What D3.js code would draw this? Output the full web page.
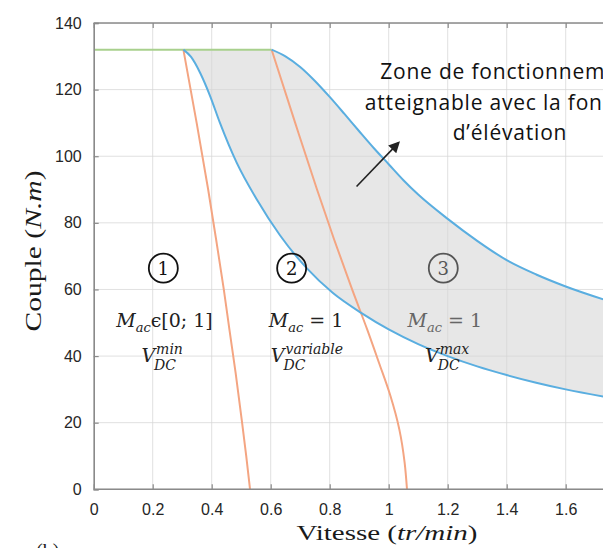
<!DOCTYPE html>
<html><head><meta charset="utf-8">
<script src="https://cdn.jsdelivr.net/npm/d3@7"></script>
<style>html,body{margin:0;padding:0;background:#fff;overflow:hidden}</style>
</head><body>
<svg id="chart" width="603" height="548"></svg>
<script>
// ---- data ----
const xTicks = [0, 0.2, 0.4, 0.6, 0.8, 1, 1.2, 1.4, 1.6];
const yTicks = [0, 20, 40, 60, 80, 100, 120, 140];
const ceilingSpeed = [0, 0.603];
const ceilingTorque = [132, 132];
const lowerSpeed = [0.304, 0.33, 0.361, 0.395, 0.428, 0.485, 0.553, 0.632, 0.722, 0.81, 0.908, 1.0, 1.1, 1.2, 1.3, 1.4, 1.5, 1.6, 1.75];
const lowerTorque = [132, 129.8, 125, 118, 110, 98, 87, 76.2, 66.4, 59, 52.9, 48, 43.6, 40, 36.9, 34.3, 32, 30, 27.5];
const upperSpeed = [0.603, 0.65, 0.7, 0.75, 0.8, 0.85, 0.9, 0.95, 1.0, 1.05, 1.1, 1.2, 1.3, 1.4, 1.5, 1.6, 1.75];
const upperTorque = [132, 130, 126.8, 122.6, 117.8, 112.7, 107.5, 102.4, 97.6, 92.8, 88.5, 81.2, 74.6, 68.8, 64.5, 60.9, 56.4];
const orange1Torque = [132, 110, 90, 75, 60, 48, 35, 20, 10, 0];
const orange1Speed = [0.304, 0.349, 0.388, 0.415, 0.441, 0.46, 0.481, 0.503, 0.517, 0.53];
const orange2Torque = [132, 110, 90, 75, 60, 48, 38, 28, 18, 8, 0];
const orange2Speed = [0.603, 0.683, 0.757, 0.815, 0.876, 0.927, 0.967, 1.006, 1.036, 1.054, 1.062];
const zoneLines = ["Zone de fonctionnement", "atteignable avec la fonction", "d’élévation"];

const zip = (xs, ys) => xs.map((v, i) => [v, ys[i]]);

const svg = d3.select("#chart");
const x = d3.scaleLinear().domain([0, 1.8]).range([93.7, 624.7]);
const y = d3.scaleLinear().domain([0, 140]).range([489.3, 23]);
const [x0, x1] = x.range(), [y0, y1] = y.range();

const defs = svg.append("defs");
defs.append("clipPath").attr("id", "clip")
  .append("rect").attr("x", x0).attr("y", y1).attr("width", x1 - x0).attr("height", y0 - y1);

const plot = svg.append("g").attr("clip-path", "url(#clip)");

// shaded zone
const lower = zip(lowerSpeed, lowerTorque), upper = zip(upperSpeed, upperTorque);
const ln = d3.line().x(d => x(d[0])).y(d => y(d[1])).curve(d3.curveMonotoneX);
const lnY = d3.line().x(d => x(d[0])).y(d => y(d[1])).curve(d3.curveMonotoneY);
const upPath = ln(upper);
const lowRev = ln(lower.slice().reverse());
plot.append("path")
  .attr("d", "M" + x(0.304) + "," + y(132) + "L" + upPath.slice(1) + "L" + lowRev.slice(1) + "Z")
  .attr("fill", "#e4e4e4").attr("fill-opacity", 0.9).attr("stroke", "none");

// grid
const grid = plot.append("g");
grid.selectAll(".gx").data(xTicks).join("line")
  .attr("x1", d => x(d)).attr("x2", d => x(d)).attr("y1", y0).attr("y2", y1)
  .attr("stroke", "#d6d6d6").attr("stroke-opacity", 0.75).attr("stroke-width", 1);
grid.selectAll(".gy").data(yTicks).join("line")
  .attr("x1", x0).attr("x2", x1).attr("y1", d => y(d)).attr("y2", d => y(d))
  .attr("stroke", "#d6d6d6").attr("stroke-opacity", 0.75).attr("stroke-width", 1);

// lines
plot.append("path").attr("d", ln(zip(ceilingSpeed, ceilingTorque)))
  .attr("fill", "none").attr("stroke", "#a8d08d").attr("stroke-width", 2);
plot.append("path").attr("d", lnY(zip(orange1Speed, orange1Torque)))
  .attr("fill", "none").attr("stroke", "#f4a582").attr("stroke-width", 2);
plot.append("path").attr("d", lnY(zip(orange2Speed, orange2Torque)))
  .attr("fill", "none").attr("stroke", "#f4a582").attr("stroke-width", 2);
plot.append("path").attr("d", ln(lower))
  .attr("fill", "none").attr("stroke", "#5aaee0").attr("stroke-width", 2);
plot.append("path").attr("d", ln(upper))
  .attr("fill", "none").attr("stroke", "#5aaee0").attr("stroke-width", 2);

// axes
const axisColor = "#8a8a8a";
const gx = svg.append("g").attr("transform", `translate(0,${y0})`)
  .call(d3.axisBottom(x).tickValues(xTicks).tickSize(-5).tickPadding(14).tickFormat(d3.format("~g")));
gx.select(".domain").attr("d", `M${x0},0H603`);
const gxt = svg.append("g").attr("transform", `translate(0,${y1})`)
  .call(d3.axisTop(x).tickValues(xTicks).tickSize(-5).tickFormat(""));
gxt.select(".domain").attr("d", `M${x0},0H603`);
const gy = svg.append("g").attr("transform", `translate(${x0},0)`)
  .call(d3.axisLeft(y).tickValues(yTicks).tickSize(-5).tickPadding(12));
[gx, gxt, gy].forEach(g => {
  g.select(".domain").attr("stroke", axisColor).attr("stroke-width", 1.6);
  g.selectAll(".tick line").attr("stroke", axisColor).attr("stroke-width", 1.2);
  g.selectAll("text").attr("fill", "#262626").attr("font-family", "Liberation Sans, Arial, sans-serif").attr("font-size", 16);
});
gx.selectAll("text").attr("dy", "0.71em");

// axis titles
const xl = svg.append("text").attr("x", 387).attr("y", 540).attr("text-anchor", "middle")
  .attr("font-family", "Liberation Serif, serif").attr("font-size", 22).attr("fill", "#1a1a1a")
  .attr("textLength", 181).attr("lengthAdjust", "spacingAndGlyphs");
xl.append("tspan").text("Vitesse (");
xl.append("tspan").attr("font-style", "italic").text("tr/min");
xl.append("tspan").text(")");

const yl = svg.append("text").attr("transform", "translate(41,251) rotate(-90)").attr("text-anchor", "middle")
  .attr("font-family", "Liberation Serif, serif").attr("font-size", 24).attr("fill", "#1a1a1a")
  .attr("textLength", 161).attr("lengthAdjust", "spacingAndGlyphs");
yl.append("tspan").text("Couple (");
yl.append("tspan").attr("font-style", "italic").text("N.m");
yl.append("tspan").text(")");

// (b)
svg.append("text").attr("x", 36).attr("y", 558).attr("font-family", "Liberation Serif, serif")
  .attr("font-size", 20).attr("fill", "#1a1a1a").text("(b)");

// circled numbers
const circ = [{n: "1", v: 0.236, c: "#111"}, {n: "2", v: 0.671, c: "#111"}, {n: "3", v: 1.185, c: "#555"}];
circ.forEach(d => {
  const cx = x(d.v), cy = y(66.4);
  svg.append("circle").attr("cx", cx).attr("cy", cy).attr("r", 14.5)
    .attr("fill", "none").attr("stroke", d.c).attr("stroke-width", 1.8);
  svg.append("text").attr("x", cx).attr("y", cy + 6.5).attr("text-anchor", "middle")
    .attr("font-family", "DejaVu Serif, serif").attr("font-size", 18).attr("fill", d.c).text(d.n);
});

// math labels
const mathFont = "DejaVu Serif, serif";
function mLabel(cx, base, rest, color) {
  const t = svg.append("text").attr("y", base).attr("font-family", mathFont).attr("font-size", 19)
    .attr("fill", color).attr("x", 0);
  t.append("tspan").attr("font-style", "italic").text("M");
  t.append("tspan").attr("font-style", "italic").attr("font-size", 13).attr("dy", 5).text("ac");
  t.append("tspan").attr("dy", -5).text(rest);
  const w = t.node().getComputedTextLength();
  t.attr("x", cx - w / 2);
}
function vLabel(cx, base, sup, color) {
  const g = svg.append("g");
  const v = g.append("text").attr("y", base).attr("font-family", mathFont).attr("font-size", 19)
    .attr("font-style", "italic").attr("fill", color).text("V");
  const vw = v.node().getComputedTextLength();
  const s1 = g.append("text").attr("x", vw + 1).attr("y", base - 8).attr("font-family", mathFont)
    .attr("font-size", 14).attr("font-style", "italic").attr("fill", color).text(sup);
  const s2 = g.append("text").attr("x", vw - 1).attr("y", base + 8).attr("font-family", mathFont)
    .attr("font-size", 14).attr("font-style", "italic").attr("fill", color).text("DC");
  const w = vw + Math.max(s1.node().getComputedTextLength() + 1, s2.node().getComputedTextLength() - 1);
  g.attr("transform", `translate(${cx - w / 2},0)`);
}
mLabel(x(0.24), 327, "ϵ[0; 1]", "#222");
vLabel(x(0.232), 362, "min", "#222");
mLabel(x(0.72), 327, " = 1", "#222");
vLabel(x(0.723), 362, "variable", "#222");
mLabel(x(1.19), 327, " = 1", "#666");
vLabel(x(1.198), 362, "max", "#222");

// annotation
defs.append("marker").attr("id", "ah").attr("viewBox", "0 0 10 10")
  .attr("refX", 8).attr("refY", 5).attr("markerWidth", 7).attr("markerHeight", 7)
  .attr("orient", "auto").append("path").attr("d", "M0,0L10,5L0,10Z").attr("fill", "#222");
svg.append("line").attr("x1", x(0.891)).attr("y1", y(90.9)).attr("x2", x(1.033)).attr("y2", y(104))
  .attr("stroke", "#222").attr("stroke-width", 1.6).attr("marker-end", "url(#ah)");
const zt = svg.append("text").attr("font-family", "Open Sans, sans-serif").attr("font-size", 21)
  .attr("letter-spacing", 0.8).attr("fill", "#111").attr("text-anchor", "middle");
zoneLines.forEach((s, i) => zt.append("tspan").attr("x", 510).attr("y", 79 + i * 30.5).text(s));
</script>
</body></html>
